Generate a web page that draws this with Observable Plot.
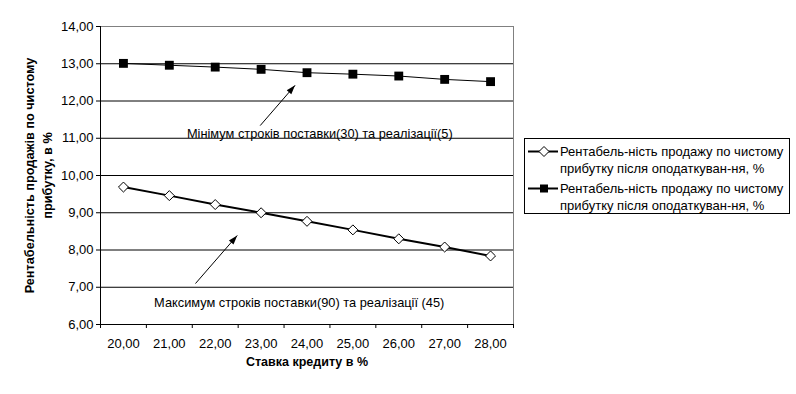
<!DOCTYPE html>
<html><head><meta charset="utf-8">
<script src="https://cdn.jsdelivr.net/npm/d3@7"></script>
<script src="https://cdn.jsdelivr.net/npm/@observablehq/plot@0.6"></script>
<style>
body{margin:0;background:#fff;font-family:"Liberation Sans",Arial,sans-serif;}
#wrap{position:relative;width:796px;height:394px;overflow:hidden;}
#legend{position:absolute;left:524px;top:138px;width:266px;height:76px;border:1px solid #000;box-sizing:border-box;font-size:13px;background:#fff;}
</style></head><body><div id="wrap"></div>
<script>
// --- data ---
const rates = [20, 21, 22, 23, 24, 25, 26, 27, 28];
const maxTermsValues = [9.69, 9.46, 9.22, 9.00, 8.77, 8.54, 8.30, 8.08, 7.84];
const minTermsValues = [13.01, 12.96, 12.91, 12.85, 12.76, 12.72, 12.67, 12.58, 12.52];
const seriesLabel = "Рентабель-ність продажу по чистому\nприбутку після оподаткуван-ня, %";
const yTicks = [6, 7, 8, 9, 10, 11, 12, 13, 14];
const yTitle = "Рентабельність продажів по чистому\nприбутку, в %";
const xTitle = "Ставка кредиту в %";
const annotations = [
  {x1: 22.98, y1: 11.34, x2: 23.74, y2: 12.42, tx: 24.28, ty: 11.13, label: "Мінімум строків поставки(30) та реалізації(5)"},
  {x1: 21.57, y1: 7.10, x2: 22.48, y2: 8.39, tx: 23.83, ty: 6.59, label: "Максимум строків поставки(90) та реалізації (45)"}
];

const fmt = v => d3.format(".2f")(v).replace(".", ",");
const maxData = rates.map((r, i) => ({x: r, y: maxTermsValues[i]}));
const minData = rates.map((r, i) => ({x: r, y: minTermsValues[i]}));
const xMin = d3.min(rates) - 0.5, xMax = d3.max(rates) + 0.5;
const bounds = d3.range(xMin, xMax + 0.001, 1);
const yMin = d3.min(yTicks), yMax = d3.max(yTicks);

const arrowHead = {draw(ctx, size) { const s = Math.sqrt(size); ctx.moveTo(0, 0); ctx.lineTo(-s * 0.33, s); ctx.lineTo(s * 0.33, s); ctx.closePath(); }};

const plot = Plot.plot({
  width: 796, height: 394,
  marginLeft: 100, marginRight: 283, marginTop: 26, marginBottom: 70,
  style: {fontFamily: "Liberation Sans, Arial, sans-serif", fontSize: "13px", background: "#fff", color: "#000"},
  x: {type: "linear", domain: [xMin, xMax]},
  y: {domain: [yMin, yMax]},
  marks: [
    Plot.ruleY(yTicks.filter(t => t > yMin && t < yMax), {stroke: "#000", strokeWidth: 1}),
    Plot.ruleY([yMax], {stroke: "#808080"}),
    Plot.ruleX([xMax], {stroke: "#808080"}),
    Plot.ruleX([xMin], {stroke: "#000"}),
    Plot.ruleY([yMin], {stroke: "#000"}),
    Plot.axisY({ticks: yTicks, tickSize: 4, tickPadding: 3, tickFormat: fmt, label: null, stroke: "#000"}),
    Plot.axisX({ticks: bounds, tickSize: 4, tickFormat: () => "", label: null, stroke: "#000"}),
    Plot.axisX({ticks: rates, tickSize: 0, tickPadding: 14, tickFormat: fmt, label: null}),
    Plot.text([yTitle], {frameAnchor: "left", dx: -63, rotate: -90, fontWeight: "bold", fontSize: 12.7, lineHeight: 1.35, textAnchor: "middle"}),
    Plot.text([xTitle], {frameAnchor: "bottom", dy: 41, fontWeight: "bold", fontSize: 12.5}),
    Plot.line(minData, {x: "x", y: "y", stroke: "#000", strokeWidth: 1}),
    Plot.line(maxData, {x: "x", y: "y", stroke: "#000", strokeWidth: 2}),
    Plot.dot(minData, {x: "x", y: "y", symbol: "square", r: 5, fill: "#000", stroke: "none"}),
    Plot.dot(maxData, {x: "x", y: "y", symbol: "diamond2", r: 4.5, fill: "#fff", stroke: "#000", strokeWidth: 1}),
    Plot.link(annotations, {x1: "x1", y1: "y1", x2: "x2", y2: "y2", stroke: "#000", strokeWidth: 1}),
    Plot.dot(annotations, {x: "x2", y: "y2", symbol: arrowHead, r: 5.2, rotate: 41, fill: "#000", stroke: "none"}),
    Plot.text(annotations, {x: "tx", y: "ty", text: "label", fontSize: 12.8, fill: "#000"})
  ]
});
const wrap = document.getElementById("wrap");
wrap.appendChild(plot);

// legend
const legend = document.createElement("div");
legend.id = "legend";
const legendItems = [
  {label: seriesLabel, marker: "diamond", sw: 2},
  {label: seriesLabel, marker: "square", sw: 2}
];
legendItems.forEach((it, i) => {
  const row = document.createElement("div");
  row.style.cssText = `position:absolute;left:3px;top:${3.5 + i * 37}px;width:260px;height:36px;`;
  const mk = it.marker === "diamond"
    ? `<polygon points="16,3.5 21,8.5 16,13.5 11,8.5" fill="#fff" stroke="#000" stroke-width="1"/>`
    : `<rect x="12" y="4.5" width="8" height="8" fill="#000"/>`;
  row.innerHTML = `<svg width="32" height="17" style="position:absolute;left:0;top:0"><line x1="0" x2="30" y1="8.5" y2="8.5" stroke="#000" stroke-width="${it.sw}"/>${mk}</svg>` +
    `<div style="position:absolute;left:32px;top:0;white-space:pre;line-height:17px;">${it.label}</div>`;
  legend.appendChild(row);
});
wrap.appendChild(legend);
</script>
</body></html>
